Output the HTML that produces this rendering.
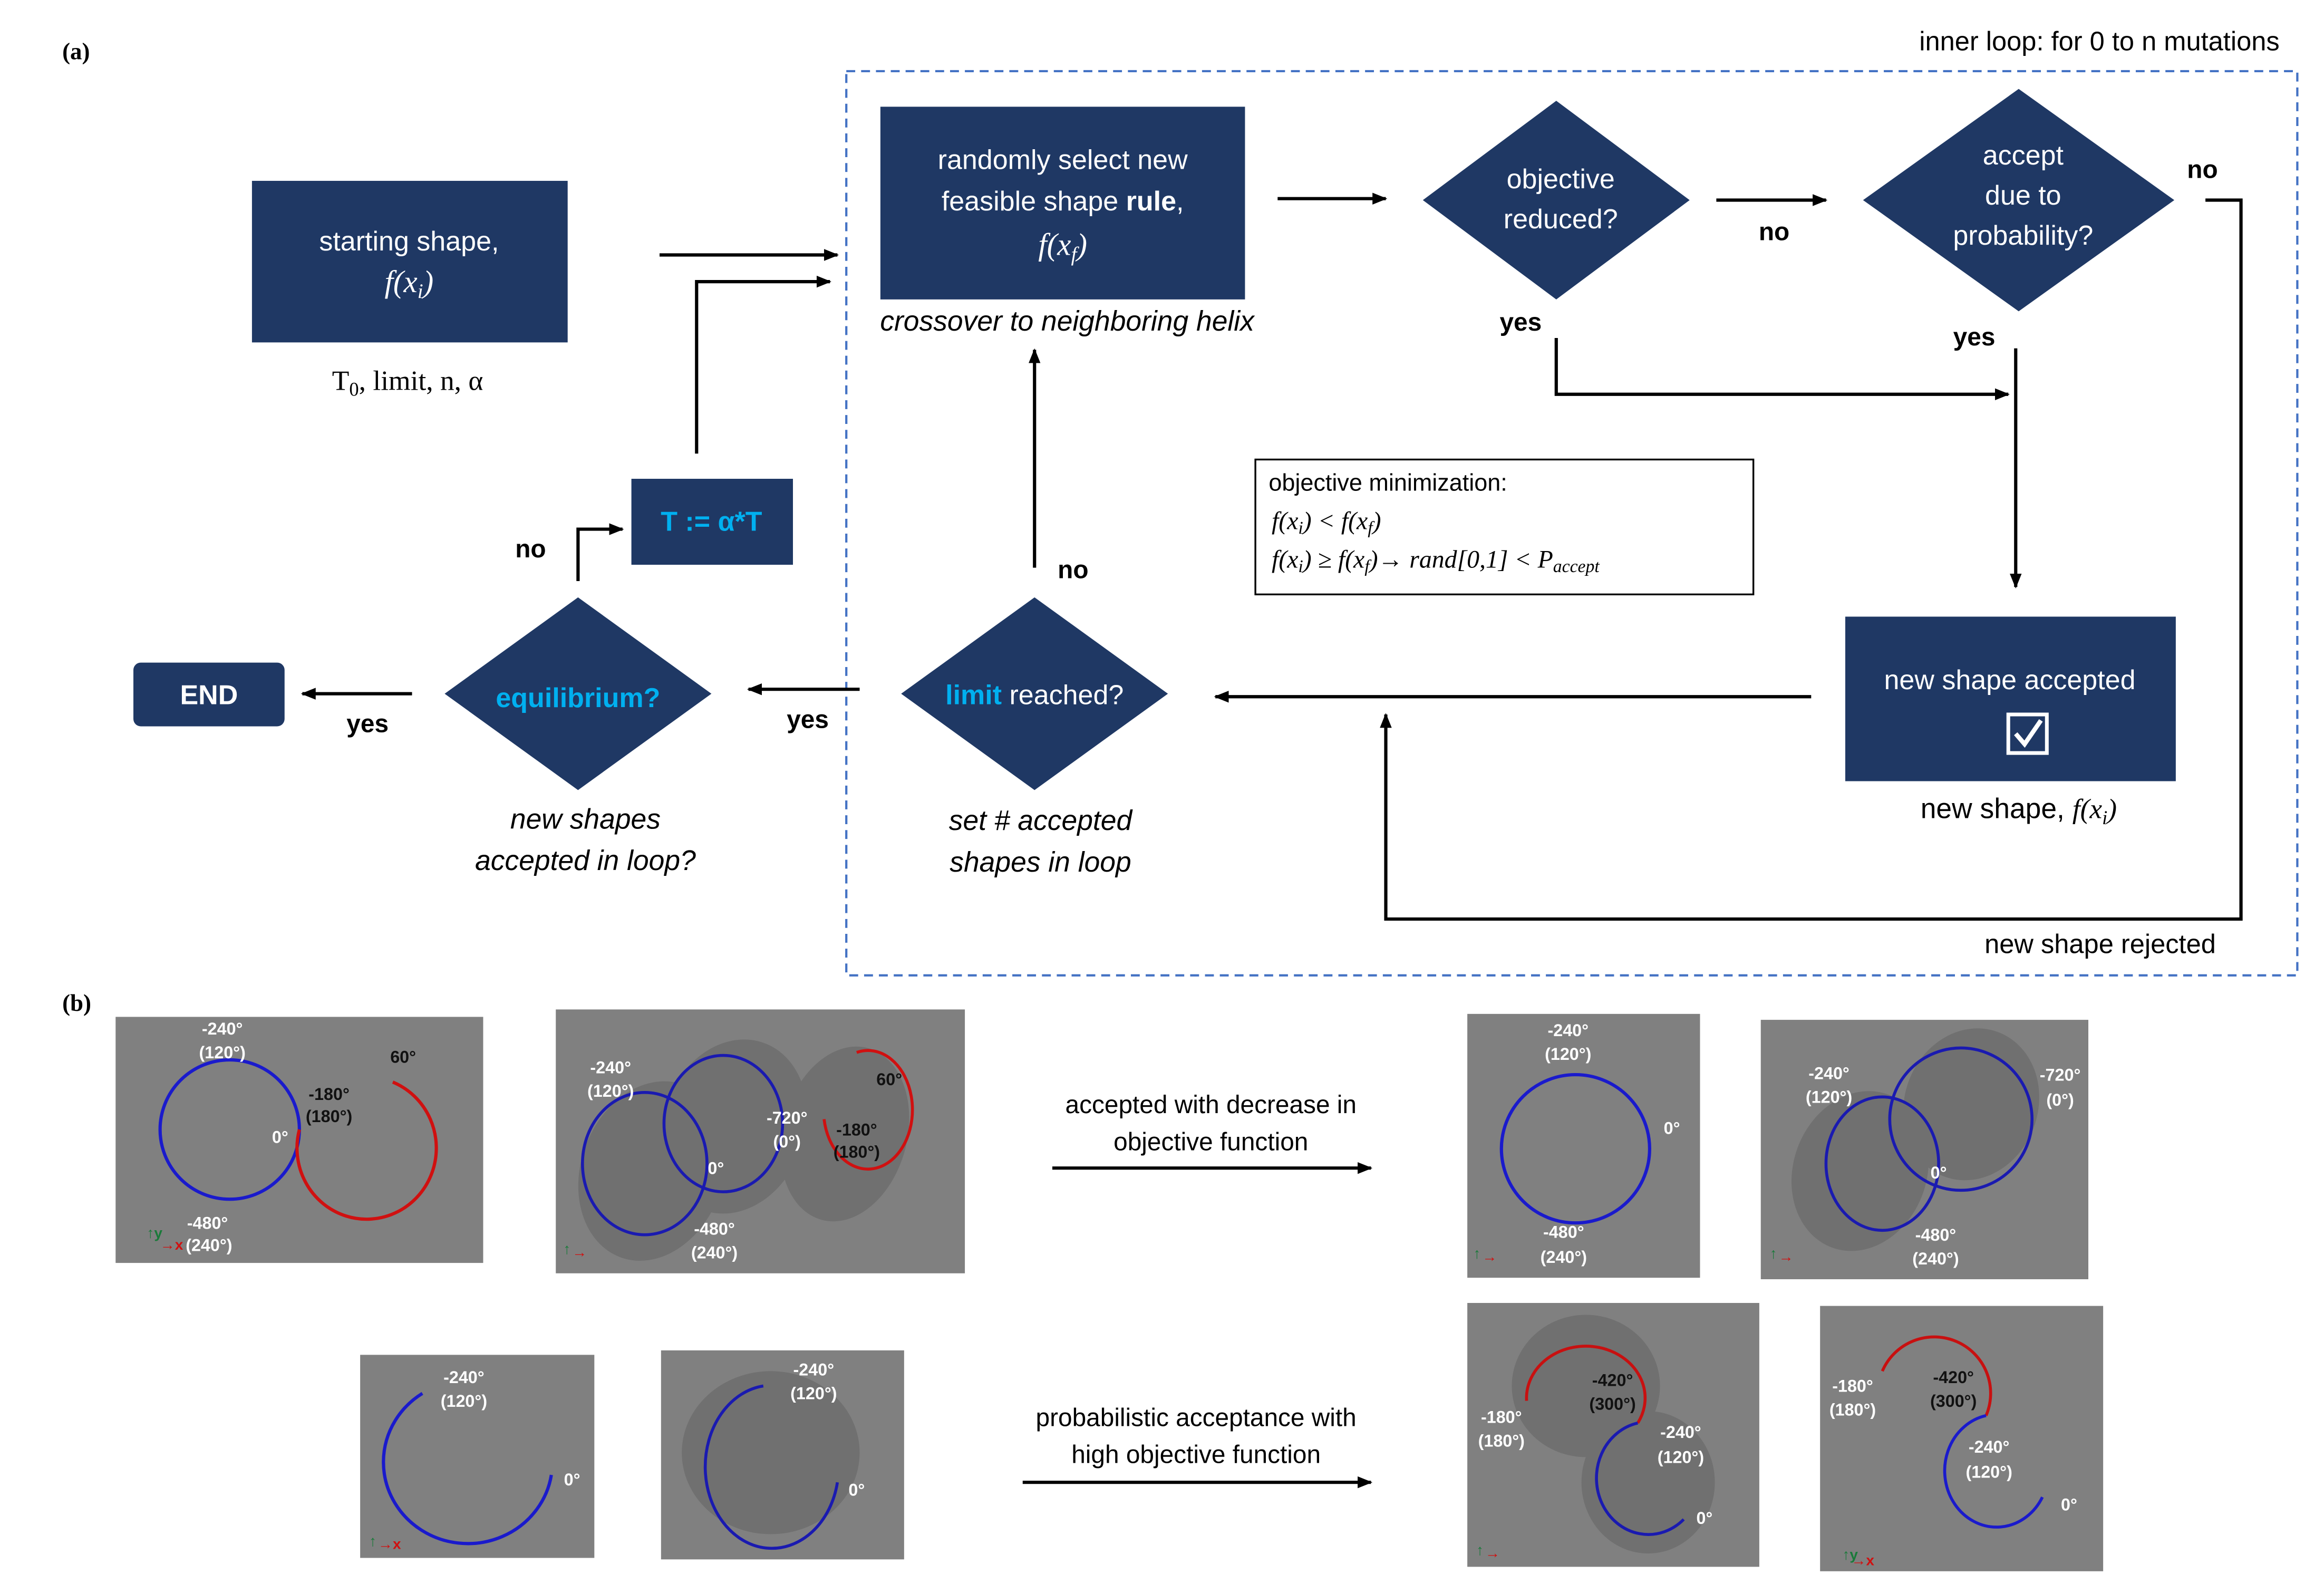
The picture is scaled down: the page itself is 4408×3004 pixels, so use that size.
<!DOCTYPE html>
<html><head><meta charset="utf-8"><style>
html,body{margin:0;padding:0;background:#fff}
svg{display:block}
.t{font-family:"Liberation Sans",sans-serif}
.w{fill:#fff;font-family:"Liberation Sans",sans-serif;font-size:18.5px;text-anchor:middle}
.c{fill:#00b0f0}
.b{font-family:"Liberation Sans",sans-serif;font-weight:bold;font-size:17px;fill:#000}
.i{font-family:"Liberation Sans",sans-serif;font-style:italic;font-size:19px;text-anchor:middle}
.pw{font-family:"Liberation Sans",sans-serif;font-weight:bold;font-size:11.5px;fill:#fff;text-anchor:middle}
.pk{font-family:"Liberation Sans",sans-serif;font-weight:bold;font-size:11.5px;fill:#111;text-anchor:middle}
</style></head><body>
<svg width="4408" height="3004" viewBox="0 0 1568 1068.6" preserveAspectRatio="none" xmlns="http://www.w3.org/2000/svg">
<defs>
<marker id="a" markerWidth="10" markerHeight="10" refX="9" refY="5" orient="auto" markerUnits="userSpaceOnUse"><path d="M0,1 L10,5 L0,9 Z" fill="#000"/></marker>
</defs>
<rect width="1568" height="1069" fill="#fff"/>
<text x="42" y="40" style="font-family:'Liberation Serif',serif;font-size:16px;font-weight:bold">(a)</text>
<text x="42" y="682" style="font-family:'Liberation Serif',serif;font-size:16px;font-weight:bold">(b)</text>
<rect x="571" y="48" width="979" height="610" fill="none" stroke="#4472c4" stroke-width="1.5" stroke-dasharray="6,4"/>
<text x="1538" y="34" class="t" font-size="18" text-anchor="end">inner loop: for 0 to n mutations</text>

<g fill="#1f3864">
<rect x="170" y="122" width="213" height="109"/>
<rect x="594" y="72" width="246" height="130"/>
<polygon points="960,135 1050,68 1140,135 1050,202"/>
<polygon points="1257,135 1362,60 1467,135 1362,210"/>
<rect x="1245" y="416" width="223" height="111"/>
<polygon points="608,468 698,403 788,468 698,533"/>
<polygon points="300,468 390,403 480,468 390,533"/>
<rect x="426" y="323" width="109" height="58"/>
<rect x="90" y="447" width="102" height="43" rx="5"/>
</g>
<text x="276" y="169" class="w">starting shape,</text>
<text x="276" y="197" class="w" style="font-family:'Liberation Serif',serif;font-style:italic;font-size:21px">f(x<tspan font-size="14" dy="4">i</tspan><tspan dy="-4">)</tspan></text>
<text x="275" y="263" style="font-family:'Liberation Serif',serif;font-size:19px;text-anchor:middle">T<tspan font-size="13" dy="4">0</tspan><tspan dy="-4">, limit, n, α</tspan></text>
<text x="717" y="114" class="w">randomly select new</text>
<text x="717" y="142" class="w">feasible shape <tspan font-weight="bold">rule</tspan>,</text>
<text x="717" y="172" class="w" style="font-family:'Liberation Serif',serif;font-style:italic;font-size:21px">f(x<tspan font-size="14" dy="4">f</tspan><tspan dy="-4">)</tspan></text>
<text x="720" y="223" class="i">crossover to neighboring helix</text>
<text x="1053" y="127" class="w">objective</text>
<text x="1053" y="154" class="w">reduced?</text>
<text x="1365" y="111" class="w">accept</text>
<text x="1365" y="138" class="w">due to</text>
<text x="1365" y="165" class="w">probability?</text>
<text x="1356" y="465" class="w">new shape accepted</text>
<rect x="1355" y="482" width="26" height="26" fill="none" stroke="#fff" stroke-width="2.5"/>
<path d="M1360,495 L1366,502 L1377,486" fill="none" stroke="#fff" stroke-width="3"/>
<text x="1362" y="552" class="t" font-size="19" text-anchor="middle">new shape, <tspan style="font-family:'Liberation Serif',serif;font-style:italic">f(x<tspan font-size="13" dy="4">i</tspan><tspan dy="-4">)</tspan></tspan></text>
<text x="698" y="475" class="w"><tspan class="c" font-weight="bold">limit</tspan> reached?</text>
<text x="390" y="477" class="w" style="fill:#00b0f0;font-weight:bold">equilibrium?</text>
<text x="480" y="358" class="w" style="fill:#00b0f0;font-weight:bold">T := α*T</text>
<text x="141" y="475" class="w" style="font-weight:bold">END</text>
<text x="702" y="560" class="i">set # accepted</text>
<text x="702" y="588" class="i">shapes in loop</text>
<text x="395" y="559" class="i">new shapes</text>
<text x="395" y="587" class="i">accepted in loop?</text>

<rect x="847" y="310" width="336" height="91" fill="#fff" stroke="#000" stroke-width="1.2"/>
<text x="856" y="331" class="t" font-size="16">objective minimization:</text>
<text x="858" y="357" style="font-family:'Liberation Serif',serif;font-style:italic;font-size:17px">f(x<tspan font-size="12" dy="3">i</tspan><tspan dy="-3">) &lt; f(x</tspan><tspan font-size="12" dy="3">f</tspan><tspan dy="-3">)</tspan></text>
<text x="858" y="383" style="font-family:'Liberation Serif',serif;font-style:italic;font-size:17px">f(x<tspan font-size="12" dy="3">i</tspan><tspan dy="-3">) ≥ f(x</tspan><tspan font-size="12" dy="3">f</tspan><tspan dy="-3">)→ rand[0,1]  &lt;  P</tspan><tspan font-size="12" dy="3">accept</tspan></text>

<g stroke="#000" stroke-width="2.2" fill="none">
<path d="M445,172 H565" marker-end="url(#a)"/>
<path d="M470,306 V190 H560" marker-end="url(#a)"/>
<path d="M862,134 H935" marker-end="url(#a)"/>
<path d="M1158,135 H1232" marker-end="url(#a)"/>
<path d="M1488,135 H1512 V620 H935 V482" marker-end="url(#a)"/>
<path d="M1050,228 V266 H1355" marker-end="url(#a)"/>
<path d="M1360,235 V396" marker-end="url(#a)"/>
<path d="M1222,470 H820" marker-end="url(#a)"/>
<path d="M698,383 V236" marker-end="url(#a)"/>
<path d="M580,465 H505" marker-end="url(#a)"/>
<path d="M278,468 H204" marker-end="url(#a)"/>
<path d="M390,392 V357 H420" marker-end="url(#a)"/>
<path d="M710,788 H925" marker-end="url(#a)"/>
<path d="M690,1000 H925" marker-end="url(#a)"/>
</g>
<text x="1197" y="162" class="b" text-anchor="middle">no</text>
<text x="1486" y="120" class="b" text-anchor="middle">no</text>
<text x="1026" y="223" class="b" text-anchor="middle">yes</text>
<text x="1332" y="233" class="b" text-anchor="middle">yes</text>
<text x="724" y="390" class="b" text-anchor="middle">no</text>
<text x="545" y="491" class="b" text-anchor="middle">yes</text>
<text x="358" y="376" class="b" text-anchor="middle">no</text>
<text x="248" y="494" class="b" text-anchor="middle">yes</text>
<text x="1417" y="643" class="t" font-size="18" text-anchor="middle">new shape rejected</text>
<text x="817" y="751" class="t" font-size="17" text-anchor="middle">accepted with decrease in</text>
<text x="817" y="776" class="t" font-size="17" text-anchor="middle">objective function</text>
<text x="807" y="962" class="t" font-size="17" text-anchor="middle">probabilistic acceptance with</text>
<text x="807" y="987" class="t" font-size="17" text-anchor="middle">high objective function</text>

<g fill="#808080">
<rect x="78" y="686" width="248" height="166"/>
<rect x="375" y="681" width="276" height="178"/>
<rect x="990" y="684" width="157" height="178"/>
<rect x="1188" y="688" width="221" height="175"/>
<rect x="243" y="914" width="158" height="137"/>
<rect x="446" y="911" width="164" height="141"/>
<rect x="990" y="879" width="197" height="178"/>
<rect x="1228" y="881" width="191" height="179"/>
</g>
<circle cx="155" cy="762" r="47" fill="none" stroke="#1a1acc" stroke-width="2.2"/>
<path d="M202,762 A47,48 0 1 0 265,730" fill="none" stroke="#d01010" stroke-width="2.2"/>
<text x="150" y="698" class="pw">-240°</text><text x="150" y="714" class="pw">(120°)</text>
<text x="222" y="742" class="pk">-180°</text><text x="222" y="757" class="pk">(180°)</text>
<text x="272" y="717" class="pk">60°</text>
<text x="189" y="771" class="pw">0°</text>
<text x="140" y="829" class="pw">-480°</text><text x="141" y="844" class="pw">(240°)</text>
<text x="99" y="835" style="font:bold 10px 'Liberation Sans',sans-serif;fill:#1a7a3a">↑y</text><text x="108" y="843" style="font:bold 10px 'Liberation Sans',sans-serif;fill:#d01010">→x</text>
<g fill="#5e5e5e" opacity="0.45">
<ellipse cx="440" cy="790" rx="48" ry="62" transform="rotate(20 440 790)"/>
<ellipse cx="495" cy="760" rx="48" ry="60" transform="rotate(20 495 760)"/>
<ellipse cx="570" cy="765" rx="42" ry="60" transform="rotate(15 570 765)"/>
</g>
<ellipse cx="435" cy="785" rx="42" ry="48" fill="none" stroke="#1a1ab0" stroke-width="2"/>
<ellipse cx="488" cy="758" rx="40" ry="46" fill="none" stroke="#1a1ab0" stroke-width="2"/>
<path d="M556,755 A30,40 0 1 0 578,710" fill="none" stroke="#d01010" stroke-width="2"/>
<text x="412" y="724" class="pw">-240°</text><text x="412" y="740" class="pw">(120°)</text>
<text x="531" y="758" class="pw">-720°</text><text x="531" y="774" class="pw">(0°)</text>
<text x="578" y="766" class="pk">-180°</text><text x="578" y="781" class="pk">(180°)</text>
<text x="600" y="732" class="pk">60°</text>
<text x="483" y="792" class="pw">0°</text>
<text x="482" y="833" class="pw">-480°</text><text x="482" y="849" class="pw">(240°)</text>
<circle cx="1063" cy="775" r="50" fill="none" stroke="#1a1acc" stroke-width="2.2"/>
<text x="1058" y="699" class="pw">-240°</text><text x="1058" y="715" class="pw">(120°)</text>
<text x="1128" y="765" class="pw">0°</text>
<text x="1055" y="835" class="pw">-480°</text><text x="1055" y="852" class="pw">(240°)</text>
<g fill="#5e5e5e" opacity="0.45">
<ellipse cx="1255" cy="790" rx="45" ry="55" transform="rotate(20 1255 790)"/>
<ellipse cx="1330" cy="745" rx="45" ry="52" transform="rotate(20 1330 745)"/>
</g>
<ellipse cx="1270" cy="785" rx="38" ry="45" fill="none" stroke="#1a1ab0" stroke-width="2"/>
<ellipse cx="1323" cy="755" rx="48" ry="48" fill="none" stroke="#1a1ab0" stroke-width="2"/>
<text x="1234" y="728" class="pw">-240°</text><text x="1234" y="744" class="pw">(120°)</text>
<text x="1390" y="729" class="pw">-720°</text><text x="1390" y="746" class="pw">(0°)</text>
<text x="1308" y="795" class="pw">0°</text>
<text x="1306" y="837" class="pw">-480°</text><text x="1306" y="853" class="pw">(240°)</text>
<path d="M285,940 A57,55 0 1 0 372,995" fill="none" stroke="#1a1acc" stroke-width="2.2"/>
<text x="313" y="933" class="pw">-240°</text><text x="313" y="949" class="pw">(120°)</text>
<text x="386" y="1002" class="pw">0°</text>
<g fill="#5e5e5e" opacity="0.45"><ellipse cx="520" cy="980" rx="60" ry="55"/></g>
<path d="M515,935 A45,55 0 1 0 565,1000" fill="none" stroke="#1a1ab0" stroke-width="2"/>
<text x="549" y="928" class="pw">-240°</text><text x="549" y="944" class="pw">(120°)</text>
<text x="578" y="1009" class="pw">0°</text>
<g fill="#5e5e5e" opacity="0.45">
<ellipse cx="1070" cy="935" rx="50" ry="48"/>
<ellipse cx="1112" cy="1000" rx="45" ry="48"/>
</g>
<path d="M1030,945 A40,35 0 1 1 1105,960" fill="none" stroke="#c81010" stroke-width="2"/>
<path d="M1105,960 A35,38 0 1 0 1136,1025" fill="none" stroke="#1a1ab0" stroke-width="2"/>
<text x="1088" y="935" class="pk">-420°</text><text x="1088" y="951" class="pk">(300°)</text>
<text x="1013" y="960" class="pw">-180°</text><text x="1013" y="976" class="pw">(180°)</text>
<text x="1134" y="970" class="pw">-240°</text><text x="1134" y="987" class="pw">(120°)</text>
<text x="1150" y="1028" class="pw">0°</text>
<path d="M1270,925 A38,38 0 1 1 1340,955" fill="none" stroke="#c81010" stroke-width="2"/>
<path d="M1340,955 A35,38 0 1 0 1378,1010" fill="none" stroke="#1a1acc" stroke-width="2"/>
<text x="1318" y="933" class="pk">-420°</text><text x="1318" y="949" class="pk">(300°)</text>
<text x="1250" y="939" class="pw">-180°</text><text x="1250" y="955" class="pw">(180°)</text>
<text x="1342" y="980" class="pw">-240°</text><text x="1342" y="997" class="pw">(120°)</text>
<text x="1396" y="1019" class="pw">0°</text>
<g style="font:bold 10px 'Liberation Sans',sans-serif">
<text x="380" y="846" fill="#1a7a3a">↑</text><text x="386" y="848" fill="#d01010">→</text>
<text x="994" y="849" fill="#1a7a3a">↑</text><text x="1000" y="851" fill="#d01010">→</text>
<text x="1194" y="849" fill="#1a7a3a">↑</text><text x="1200" y="851" fill="#d01010">→</text>
<text x="249" y="1043" fill="#1a7a3a">↑</text><text x="255" y="1045" fill="#d01010">→x</text>
<text x="996" y="1049" fill="#1a7a3a">↑</text><text x="1002" y="1051" fill="#d01010">→</text>
<text x="1243" y="1052" fill="#1a7a3a">↑y</text><text x="1249" y="1056" fill="#d01010">→x</text>
</g>
</svg>
</body></html>
